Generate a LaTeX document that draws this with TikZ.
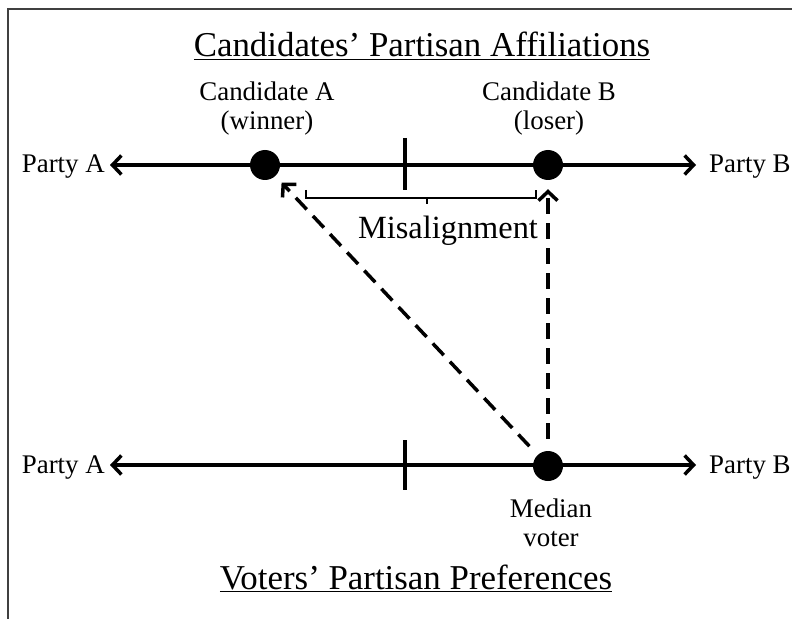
\documentclass[tikz,border=0pt]{standalone}
\usepackage{fontspec}
\setmainfont{Liberation Serif}
\usetikzlibrary{arrows.meta}
\begin{document}
\begin{tikzpicture}[x=1bp,y=-1bp,
  axis/.style={line width=3.5bp, {Straight Barb[length=9bp,width=19bp]}-{Straight Barb[length=9bp,width=19bp]}},
  dot/.style={circle,fill=black,inner sep=0pt,minimum size=30bp},
  tickmark/.style={line width=3.5bp},
  lbl/.style={font=\fontsize{27}{29}\selectfont, align=center, inner sep=0pt},
  party/.style={font=\fontsize{27}{29}\selectfont, inner sep=0pt},
  ttl/.style={font=\fontsize{35}{40}\selectfont, inner sep=0pt},
  dasharrow/.style={line width=3.5bp, dash pattern=on 16bp off 9bp, -{Straight Barb[length=9bp,width=19bp]}},
  bracket/.style={line width=1.3bp}
]
\useasboundingbox (0,0) rectangle (792,619);
% frame
\coordinate (fbl) at (8,619);
\coordinate (ftl) at (8,9);
\coordinate (ftr) at (792,9);
\draw[line width=2.2bp, black!75] (fbl) -- (ftl) -- (ftr);

% titles
\node[ttl, anchor=base] (t1) at (422,57) {\underline{Candidates’ Partisan Affiliations}};
\node[ttl, anchor=base] (t2) at (416,589) {\underline{Voters’ Partisan Preferences}};

% top axis
\coordinate (a1l) at (110,165);
\coordinate (a1r) at (696,165);
\draw[axis] (a1l) -- (a1r);
\node[party, anchor=base east] (pa1) at (105,173) {Party A};
\node[party, anchor=base west] (pb1) at (709,173) {Party B};
\coordinate (tk1t) at (405,138);
\coordinate (tk1b) at (405,190);
\draw[tickmark] (tk1t) -- (tk1b);

% bottom axis
\coordinate (a2l) at (110,465);
\coordinate (a2r) at (696,465);
\draw[axis] (a2l) -- (a2r);
\node[party, anchor=base east] (pa2) at (105,473) {Party A};
\node[party, anchor=base west] (pb2) at (709,473) {Party B};
\coordinate (tk2t) at (405,440);
\coordinate (tk2b) at (405,490);
\draw[tickmark] (tk2t) -- (tk2b);

% dots
\node[dot] (ca) at (265,165) {};
\node[dot] (cb) at (548,165) {};
\node[dot] (mv) at (548,466) {};

% labels
\node[lbl, anchor=south] (cal) at (267,135) {Candidate A\\(winner)};
\node[lbl, anchor=south] (cbl) at (549,135) {Candidate B\\(loser)};
\node[lbl, anchor=north] (mvl) at (551,499) {Median\\voter};

% misalignment bracket
\coordinate (b1) at (306,190);
\coordinate (b2) at (306,198);
\coordinate (b3) at (536,198);
\coordinate (b4) at (536,190);
\coordinate (bm1) at (427,198);
\coordinate (bm2) at (427,204);
\draw[bracket] (b1) -- (b2) -- (b3) -- (b4);
\draw[bracket] (bm1) -- (bm2);
\node[font=\fontsize{32.5}{36}\selectfont, inner sep=0pt, anchor=base] (mis) at (448,238) {Misalignment};

% dashed arrows
\draw[dasharrow, shorten <=12bp, shorten >=9bp] (mv) -- (cb);
\draw[dasharrow, shorten <=12bp, shorten >=9bp] (mv) -- (ca);
\end{tikzpicture}
\end{document}
